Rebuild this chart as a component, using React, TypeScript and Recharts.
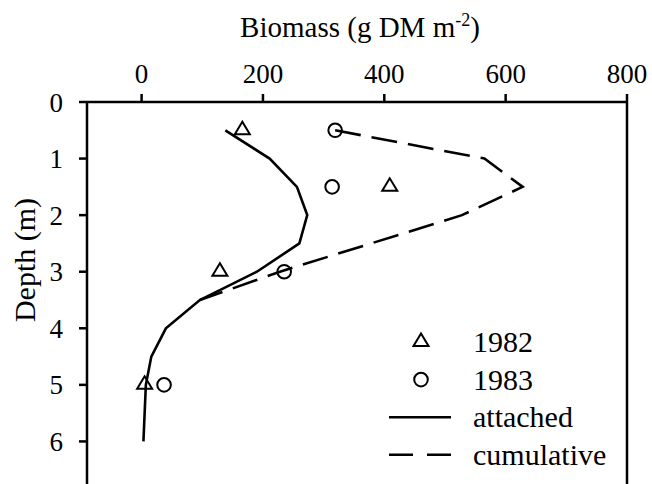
import React from "react";
import { ScatterChart, Scatter, XAxis, YAxis, ReferenceLine, Label } from "recharts";

// sampled biomass at each depth (g DM m-2)
const sampleDepths = [0.5, 1.5, 3, 5];
const biomass1982 = [166, 409, 129, 5];
const biomass1983 = [319, 314, 235, 37];

// attached biomass profile
const attachedDepths = [0.5, 1, 1.5, 2, 2.5, 3, 3.5, 4, 4.5, 5, 6];
const attachedBiomass = [138, 211, 256, 273, 260, 190, 96, 40, 16, 7, 3];

// cumulative biomass profile
const cumulativeDepths = [0.5, 1, 1.5, 2, 3, 3.5];
const cumulativeBiomass = [319, 565, 628, 528, 228, 96];

const xTicks = [0, 200, 400, 600, 800];
const yTicks = [0, 1, 2, 3, 4, 5, 6];

const FONT = "'Liberation Serif', 'Times New Roman', serif";
const INK = "#000";

const zip = (depths: number[], values: number[]) =>
  depths.map((d, i) => ({ x: values[i], y: d }));

const points1982 = zip(sampleDepths, biomass1982);
const points1983 = zip(sampleDepths, biomass1983);
const attached = zip(attachedDepths, attachedBiomass);
const cumulative = zip(cumulativeDepths, cumulativeBiomass);

const Triangle = ({ cx, cy }: any) => (
  <polygon
    points={`${cx},${cy - 8.5} ${cx - 7.5},${cy + 4} ${cx + 7.5},${cy + 4}`}
    fill="none"
    stroke={INK}
    strokeWidth={2}
    strokeLinejoin="miter"
  />
);

const Circle = ({ cx, cy }: any) => (
  <circle cx={cx} cy={cy} r={6.8} fill="none" stroke={INK} strokeWidth={2} />
);

const NoDot = () => <g />;

const legendRows = [
  { label: "1982", kind: "triangle" },
  { label: "1983", kind: "circle" },
  { label: "attached", kind: "solid" },
  { label: "cumulative", kind: "dashed" },
];

function LegendBox() {
  return (
    <svg
      width={652}
      height={484}
      style={{ position: "absolute", left: 0, top: 0, pointerEvents: "none" }}
    >
      {legendRows.map((row, i) => {
        const base = 352 + i * 37.6;
        const mid = base - 10;
        let sample: React.ReactNode = null;
        if (row.kind === "triangle") sample = <Triangle cx={421} cy={mid} />;
        if (row.kind === "circle") sample = <Circle cx={421} cy={mid} />;
        if (row.kind === "solid")
          sample = <line x1={389} x2={451} y1={mid} y2={mid} stroke={INK} strokeWidth={2.6} />;
        if (row.kind === "dashed")
          sample = (
            <line x1={389} x2={451} y1={mid} y2={mid} stroke={INK} strokeWidth={2.6} strokeDasharray="24 14" />
          );
        return (
          <g key={row.label}>
            {sample}
            <text x={473} y={base} fontSize={30} fontFamily={FONT} fill={INK}>
              {row.label}
            </text>
          </g>
        );
      })}
    </svg>
  );
}

const tickStyle = { fontSize: 27, fill: INK, fontFamily: FONT };
const axisStroke = { stroke: INK, strokeWidth: 2.5 };

export default function App() {
  return (
    <div
      style={{
        position: "absolute",
        left: 0,
        top: 0,
        width: 652,
        height: 484,
        overflow: "hidden",
        background: "#fff",
        fontFamily: FONT,
      }}
    >
      <ScatterChart width={652} height={500} margin={{ top: 42, right: 25, bottom: 2, left: 27 }}>
        <XAxis
          type="number"
          dataKey="x"
          orientation="top"
          domain={[-90, 800]}
          ticks={xTicks}
          height={60}
          tickSize={8}
          tickMargin={11}
          tick={tickStyle}
          axisLine={axisStroke}
          tickLine={axisStroke}
          allowDataOverflow
        >
          <Label
            content={() => (
              <text x={360} y={37} textAnchor="middle" fontSize={29} fontFamily={FONT} fill={INK}>
                Biomass (g DM m
                <tspan dy={-11} fontSize={18}>-2</tspan>
                <tspan dy={11}>)</tspan>
              </text>
            )}
          />
        </XAxis>
        <YAxis
          type="number"
          dataKey="y"
          domain={[0, 7]}
          reversed
          ticks={yTicks}
          width={60}
          tickSize={8}
          tickMargin={16}
          tick={tickStyle}
          axisLine={axisStroke}
          tickLine={axisStroke}
          allowDataOverflow
        >
          <Label
            content={() => (
              <text
                x={24.5}
                y={260}
                transform="rotate(-90 24.5 260)"
                textAnchor="middle"
                dominantBaseline="central"
                fontSize={30}
                fontFamily={FONT}
                fill={INK}
              >
                Depth (m)
              </text>
            )}
          />
        </YAxis>
        <ReferenceLine x={800} stroke={INK} strokeWidth={2.5} />
        <Scatter
          name="attached"
          data={attached}
          line={{ stroke: INK, strokeWidth: 2.6 }}
          shape={NoDot}
          legendType="none"
          isAnimationActive={false}
        />
        <Scatter
          name="cumulative"
          data={cumulative}
          line={{ stroke: INK, strokeWidth: 2.6, strokeDasharray: "26 11" }}
          shape={NoDot}
          legendType="none"
          isAnimationActive={false}
        />
        <Scatter name="1982" data={points1982} shape={Triangle} isAnimationActive={false} />
        <Scatter name="1983" data={points1983} shape={Circle} isAnimationActive={false} />
      </ScatterChart>
      <LegendBox />
    </div>
  );
}
